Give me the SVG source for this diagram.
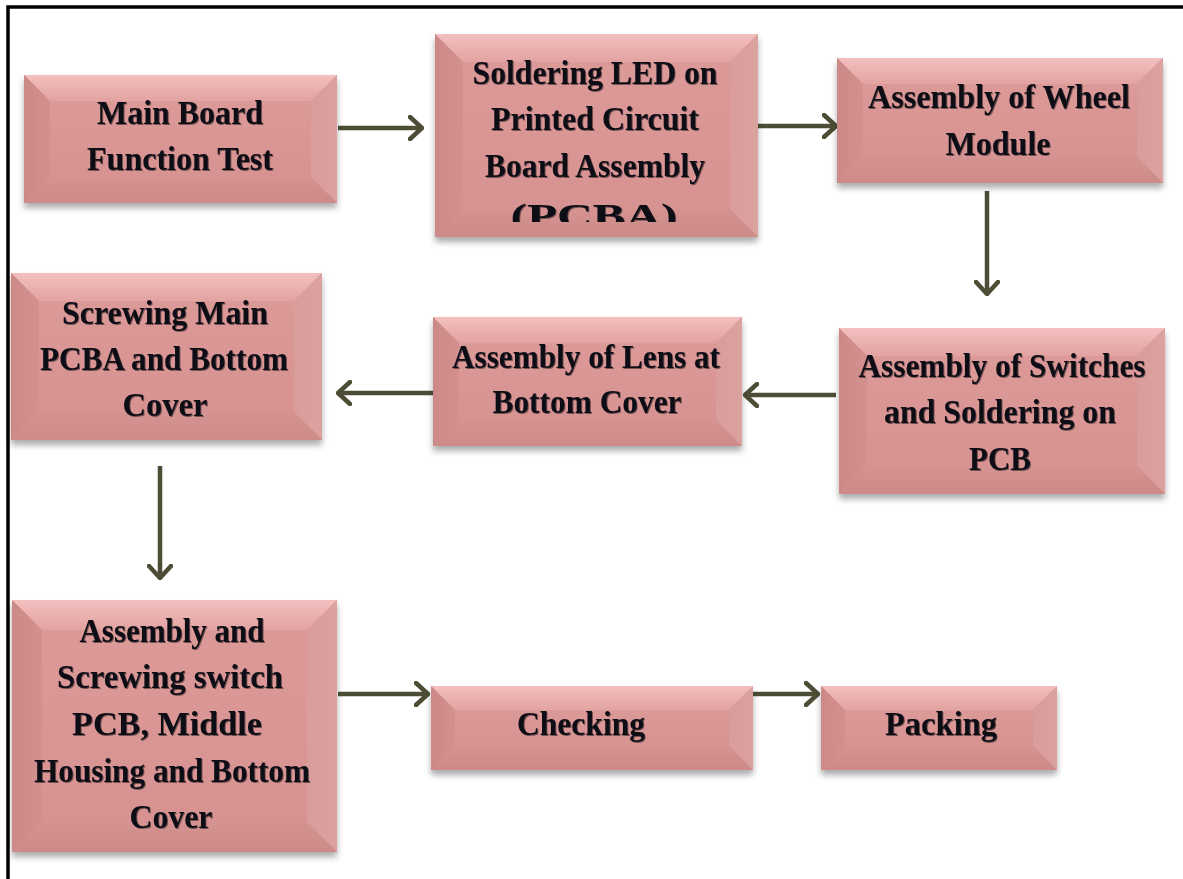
<svg xmlns="http://www.w3.org/2000/svg" width="1183" height="879" viewBox="0 0 1183 879">
<defs>
  <linearGradient id="gFace" x1="0" y1="0" x2="0" y2="1">
    <stop offset="0" stop-color="#db9997"/>
    <stop offset="1" stop-color="#d79391"/>
  </linearGradient>
  <linearGradient id="gTop" x1="0" y1="0" x2="0" y2="1">
    <stop offset="0" stop-color="#f3c0bf"/>
    <stop offset="1" stop-color="#e2a3a1"/>
  </linearGradient>
  <linearGradient id="gLeft" x1="0" y1="0" x2="1" y2="0">
    <stop offset="0" stop-color="#cb8987"/>
    <stop offset="1" stop-color="#d3908e"/>
  </linearGradient>
  <linearGradient id="gRight" x1="0" y1="0" x2="1" y2="0">
    <stop offset="0" stop-color="#d99d9b"/>
    <stop offset="1" stop-color="#dca2a0"/>
  </linearGradient>
  <linearGradient id="gBot" x1="0" y1="0" x2="0" y2="1">
    <stop offset="0" stop-color="#d49391"/>
    <stop offset="1" stop-color="#cc8a88"/>
  </linearGradient>
  <filter id="shadow" x="-10%" y="-10%" width="120%" height="130%">
    <feDropShadow dx="0" dy="5" stdDeviation="3" flood-color="#000" flood-opacity="0.33"/>
  </filter>
  <filter id="tshadow" x="-5%" y="-20%" width="110%" height="140%">
    <feDropShadow dx="1" dy="1" stdDeviation="0.6" flood-color="#000" flood-opacity="0.45"/>
  </filter>
  <marker id="arr" viewBox="0 0 16 26" refX="14" refY="13" markerWidth="16" markerHeight="26" markerUnits="userSpaceOnUse" orient="auto">
    <path d="M2,2 L14,13 L2,24" fill="none" stroke="#4d4d36" stroke-width="4.5" stroke-linejoin="miter" stroke-linecap="round"/>
  </marker>
  <clipPath id="clip2"><rect x="435" y="34" width="323" height="188"/></clipPath>
  <style>
    .face { fill: url(#gFace); filter: url(#shadow); }
    .top { fill: url(#gTop); }
    .left { fill: url(#gLeft); }
    .right { fill: url(#gRight); }
    .bot { fill: url(#gBot); }
    .lbl { font-family: "Liberation Serif", "Times New Roman", serif; font-weight: bold; font-size: 34px; fill: #0b0b16; text-anchor: middle; filter: url(#tshadow); }
    .conn { stroke: #4d4d36; stroke-width: 4.5; fill: none; marker-end: url(#arr); }
  </style>
</defs>

<rect x="0" y="0" width="1183" height="879" fill="#ffffff"/>
<path d="M8,879 V7 H1183" fill="none" stroke="#000" stroke-width="3.5"/>

<g id="connectors">
  <line class="conn" x1="338" y1="128" x2="422" y2="128"/>
  <line class="conn" x1="758" y1="126" x2="836" y2="126"/>
  <line class="conn" x1="987" y1="191" x2="987" y2="294"/>
  <line class="conn" x1="836" y1="395" x2="745" y2="395"/>
  <line class="conn" x1="433" y1="393" x2="338" y2="393"/>
  <line class="conn" x1="160" y1="466" x2="160" y2="578"/>
  <line class="conn" x1="338" y1="694" x2="428" y2="694"/>
  <line class="conn" x1="730" y1="694" x2="818" y2="694"/>
</g>

<g id="n1">
  <rect class="face" x="24" y="75" width="313" height="128"/>
  <polygon class="top" points="24,75 337,75 311,101 50,101"/>
  <polygon class="left" points="24,75 50,101 50,177 24,203"/>
  <polygon class="right" points="337,75 337,203 311,177 311,101"/>
  <polygon class="bot" points="24,203 50,177 311,177 337,203"/>
  <polygon points="50,101 311,101 311,177 50,177" fill="url(#gFace)"/>
  <text class="lbl" x="180" y="124" textLength="166" lengthAdjust="spacingAndGlyphs">Main Board</text>
  <text class="lbl" x="180" y="170" textLength="186" lengthAdjust="spacingAndGlyphs">Function Test</text>
</g>

<g id="n2">
  <rect class="face" x="435" y="34" width="323" height="203"/>
  <polygon class="top" points="435,34 758,34 730,62 463,62"/>
  <polygon class="left" points="435,34 463,62 463,209 435,237"/>
  <polygon class="right" points="758,34 758,237 730,209 730,62"/>
  <polygon class="bot" points="435,237 463,209 730,209 758,237"/>
  <polygon points="463,62 730,62 730,209 463,209" fill="url(#gFace)"/>
  <g clip-path="url(#clip2)">
    <text class="lbl" x="595" y="84" textLength="245" lengthAdjust="spacingAndGlyphs">Soldering LED on</text>
    <text class="lbl" x="595" y="130" textLength="208" lengthAdjust="spacingAndGlyphs">Printed Circuit</text>
    <text class="lbl" x="595" y="177" textLength="220" lengthAdjust="spacingAndGlyphs">Board Assembly</text>
    <text class="lbl" x="594" y="227" textLength="167" lengthAdjust="spacingAndGlyphs">(PCBA)</text>
  </g>
</g>

<g id="n3">
  <rect class="face" x="837" y="58" width="326" height="125"/>
  <polygon class="top" points="837,58 1163,58 1137,84 863,84"/>
  <polygon class="left" points="837,58 863,84 863,157 837,183"/>
  <polygon class="right" points="1163,58 1163,183 1137,157 1137,84"/>
  <polygon class="bot" points="837,183 863,157 1137,157 1163,183"/>
  <polygon points="863,84 1137,84 1137,157 863,157" fill="url(#gFace)"/>
  <text class="lbl" x="999" y="108" textLength="262" lengthAdjust="spacingAndGlyphs">Assembly of Wheel</text>
  <text class="lbl" x="998" y="155" textLength="105" lengthAdjust="spacingAndGlyphs">Module</text>
</g>

<g id="n4">
  <rect class="face" x="839" y="328" width="326" height="166"/>
  <polygon class="top" points="839,328 1165,328 1137,356 867,356"/>
  <polygon class="left" points="839,328 867,356 867,466 839,494"/>
  <polygon class="right" points="1165,328 1165,494 1137,466 1137,356"/>
  <polygon class="bot" points="839,494 867,466 1137,466 1165,494"/>
  <polygon points="867,356 1137,356 1137,466 867,466" fill="url(#gFace)"/>
  <text class="lbl" x="1002" y="377" textLength="287" lengthAdjust="spacingAndGlyphs">Assembly of Switches</text>
  <text class="lbl" x="1000" y="423" textLength="232" lengthAdjust="spacingAndGlyphs">and Soldering on</text>
  <text class="lbl" x="1000" y="470" textLength="62" lengthAdjust="spacingAndGlyphs">PCB</text>
</g>

<g id="n5">
  <rect class="face" x="433" y="317" width="309" height="129"/>
  <polygon class="top" points="433,317 742,317 716,343 459,343"/>
  <polygon class="left" points="433,317 459,343 459,420 433,446"/>
  <polygon class="right" points="742,317 742,446 716,420 716,343"/>
  <polygon class="bot" points="433,446 459,420 716,420 742,446"/>
  <polygon points="459,343 716,343 716,420 459,420" fill="url(#gFace)"/>
  <text class="lbl" x="586" y="368" textLength="268" lengthAdjust="spacingAndGlyphs">Assembly of Lens at</text>
  <text class="lbl" x="587" y="413" textLength="189" lengthAdjust="spacingAndGlyphs">Bottom Cover</text>
</g>

<g id="n6">
  <rect class="face" x="11" y="273" width="311" height="167"/>
  <polygon class="top" points="11,273 322,273 294,301 39,301"/>
  <polygon class="left" points="11,273 39,301 39,412 11,440"/>
  <polygon class="right" points="322,273 322,440 294,412 294,301"/>
  <polygon class="bot" points="11,440 39,412 294,412 322,440"/>
  <polygon points="39,301 294,301 294,412 39,412" fill="url(#gFace)"/>
  <text class="lbl" x="165" y="324" textLength="206" lengthAdjust="spacingAndGlyphs">Screwing Main</text>
  <text class="lbl" x="164" y="370" textLength="248" lengthAdjust="spacingAndGlyphs">PCBA and Bottom</text>
  <text class="lbl" x="165" y="416" textLength="85" lengthAdjust="spacingAndGlyphs">Cover</text>
</g>

<g id="n7">
  <rect class="face" x="12" y="600" width="325" height="252"/>
  <polygon class="top" points="12,600 337,600 307,630 42,630"/>
  <polygon class="left" points="12,600 42,630 42,822 12,852"/>
  <polygon class="right" points="337,600 337,852 307,822 307,630"/>
  <polygon class="bot" points="12,852 42,822 307,822 337,852"/>
  <polygon points="42,630 307,630 307,822 42,822" fill="url(#gFace)"/>
  <text class="lbl" x="172" y="642" textLength="185" lengthAdjust="spacingAndGlyphs">Assembly and</text>
  <text class="lbl" x="170" y="688" textLength="226" lengthAdjust="spacingAndGlyphs">Screwing switch</text>
  <text class="lbl" x="167" y="735" textLength="190" lengthAdjust="spacingAndGlyphs">PCB, Middle</text>
  <text class="lbl" x="172" y="782" textLength="276" lengthAdjust="spacingAndGlyphs">Housing and Bottom</text>
  <text class="lbl" x="171" y="828" textLength="83" lengthAdjust="spacingAndGlyphs">Cover</text>
</g>

<g id="n8">
  <rect class="face" x="431" y="686" width="322" height="84"/>
  <polygon class="top" points="431,686 753,686 729,710 455,710"/>
  <polygon class="left" points="431,686 455,710 455,746 431,770"/>
  <polygon class="right" points="753,686 753,770 729,746 729,710"/>
  <polygon class="bot" points="431,770 455,746 729,746 753,770"/>
  <polygon points="455,710 729,710 729,746 455,746" fill="url(#gFace)"/>
  <text class="lbl" x="581" y="735" textLength="128" lengthAdjust="spacingAndGlyphs">Checking</text>
</g>

<g id="n9">
  <rect class="face" x="821" y="686" width="236" height="84"/>
  <polygon class="top" points="821,686 1057,686 1033,710 845,710"/>
  <polygon class="left" points="821,686 845,710 845,746 821,770"/>
  <polygon class="right" points="1057,686 1057,770 1033,746 1033,710"/>
  <polygon class="bot" points="821,770 845,746 1033,746 1057,770"/>
  <polygon points="845,710 1033,710 1033,746 845,746" fill="url(#gFace)"/>
  <text class="lbl" x="941" y="735" textLength="112" lengthAdjust="spacingAndGlyphs">Packing</text>
</g>
</svg>
